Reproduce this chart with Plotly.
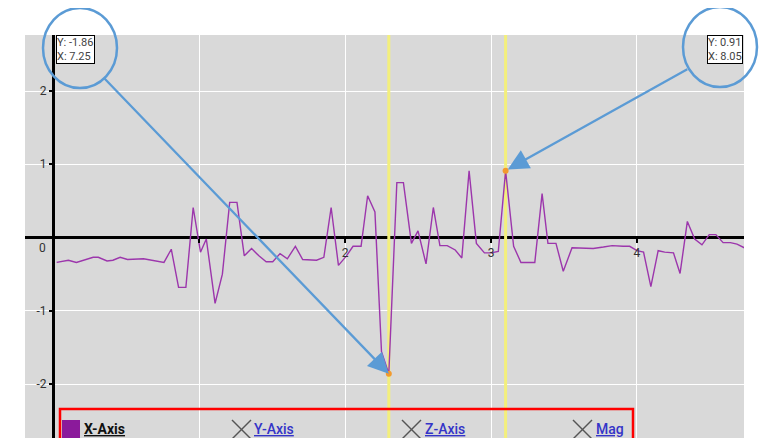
import plotly.graph_objects as go

# ---- data ----
x_vals = [0.025, 0.105, 0.16, 0.275, 0.31, 0.37, 0.41, 0.46, 0.51, 0.57, 0.62, 0.76, 0.81, 0.86, 0.91,
          0.96, 1.01, 1.05, 1.11, 1.16, 1.21, 1.26, 1.31, 1.36, 1.41, 1.46, 1.505, 1.555, 1.605, 1.66,
          1.71, 1.805, 1.855, 1.905, 1.955, 2.01, 2.055, 2.11, 2.155, 2.205, 2.25, 2.30, 2.355, 2.40,
          2.455, 2.50, 2.555, 2.605, 2.65, 2.70, 2.755, 2.80, 2.85, 2.90, 2.955, 3.00, 3.05, 3.10,
          3.155, 3.205, 3.30, 3.35, 3.39, 3.445, 3.495, 3.555, 3.63, 3.70, 3.77, 3.83, 3.905, 3.95,
          4.00, 4.045, 4.095, 4.145, 4.19, 4.25, 4.295, 4.345, 4.395, 4.445, 4.495, 4.54, 4.59,
          4.64, 4.685, 4.735]
y_vals = [-0.34, -0.31, -0.34, -0.27, -0.27, -0.32, -0.31, -0.27, -0.30, -0.29, -0.29, -0.34, -0.16,
          -0.68, -0.68, 0.41, -0.20, -0.02, -0.90, -0.50, 0.48, 0.48, -0.25, -0.15, -0.25, -0.33,
          -0.33, -0.22, -0.29, -0.12, -0.30, -0.31, -0.27, 0.41, -0.38, -0.25, -0.12, -0.12, 0.57,
          0.35, -1.56, -1.86, 0.75, 0.75, -0.08, 0.09, -0.36, 0.41, -0.11, -0.11, -0.17, -0.28, 0.91,
          -0.08, -0.21, -0.21, -0.19, 0.91, -0.12, -0.34, -0.34, 0.60, -0.08, -0.08, -0.46, -0.14,
          -0.14, -0.15, -0.13, -0.11, -0.12, -0.12, -0.18, -0.20, -0.67, -0.18, -0.20, -0.21, -0.49,
          0.22, -0.02, -0.10, 0.04, 0.04, -0.07, -0.07, -0.09, -0.14]

sel_x = [2.30, 3.10]
sel_y = [-1.86, 0.91]
sel_labels = ["Y: -1.86<br>X: 7.25", "Y: 0.91<br>X: 8.05"]

x_tickvals = [1, 2, 3, 4]
x_ticktext = ["", "2", "3", "4"]
y_tickvals = [-2, -1, 1, 2]
y_ticktext = ["-2", "-1", "1", "2"]

legend_names = ["X-Axis", "Y-Axis", "Z-Axis", "Mag"]

# ---- layout helpers (window pixel -> paper) ----
OFF = 8  # page body offset
L, R, T, B = 25, 744, 35, 438   # plot area in window pixels
W, H = R - L, B - T
def px(v):
    return (v - L) / W
def py(v):
    return (B - v) / H

fig = go.Figure()

# yellow cursor lines
for xv in sel_x:
    fig.add_trace(go.Scatter(x=[xv, xv], y=[-3, 3], mode="lines",
                             line=dict(color="#f3ef7c", width=3), hoverinfo="skip", showlegend=False))

fig.add_trace(go.Scatter(x=x_vals, y=y_vals, mode="lines",
                         line=dict(color="#9c36ac", width=1.4), showlegend=False))

fig.add_trace(go.Scatter(x=sel_x, y=sel_y, mode="markers",
                         marker=dict(color="#f39a2e", size=6), showlegend=False))

shapes = []
annotations = []

# value boxes
box_font = dict(family="Roboto", size=11, color="#444")
annotations.append(dict(xref="paper", yref="paper", x=px(56), y=1.0, xanchor="left", yanchor="top",
                        text=sel_labels[0], showarrow=False, align="left", font=box_font,
                        bgcolor="white", bordercolor="black", borderwidth=1, borderpad=0))
annotations.append(dict(xref="paper", yref="paper", x=px(743), y=1.0, xanchor="right", yanchor="top",
                        text=sel_labels[1], showarrow=False, align="left", font=box_font,
                        bgcolor="white", bordercolor="black", borderwidth=1, borderpad=0))

# circles
blue = "#5b9bd5"
shapes.append(dict(type="circle", xref="paper", yref="paper", x0=px(43), x1=px(117), y0=py(88), y1=py(8),
                   line=dict(color=blue, width=2.5)))
shapes.append(dict(type="circle", xref="paper", yref="paper", x0=px(683), x1=px(757), y0=py(87), y1=py(7),
                   line=dict(color=blue, width=2.5)))

# arrows
annotations.append(dict(xref="x", yref="y", x=sel_x[0], y=sel_y[0], ax=-286, ay=-297, text="",
                        showarrow=True, arrowhead=2, arrowsize=1.8, arrowwidth=2.3, arrowcolor=blue))
annotations.append(dict(xref="x", yref="y", x=sel_x[1] + 0.015, y=sel_y[1] + 0.02, ax=181, ay=-101, text="",
                        showarrow=True, arrowhead=2, arrowsize=1.8, arrowwidth=2.3, arrowcolor=blue))

# "0" label near origin
annotations.append(dict(xref="paper", yref="paper", x=px(45), y=py(248), xanchor="center", yanchor="middle",
                        text="0", showarrow=False, xshift=-3,
                        font=dict(family="Roboto", size=12, color="#333")))

# legend box
shapes.append(dict(type="rect", xref="paper", yref="paper", x0=px(60), x1=px(633), y0=py(450), y1=py(409),
                   line=dict(color="#ff0000", width=2.5)))
shapes.append(dict(type="rect", xref="paper", yref="paper", x0=px(62), x1=px(80), y0=py(440), y1=py(420),
                   fillcolor="#8b1a9b", line=dict(width=0)))
annotations.append(dict(xref="paper", yref="paper", x=px(82), y=py(429), xanchor="left", yanchor="middle",
                        text="<u><b>" + legend_names[0] + "</b></u>", showarrow=False,
                        font=dict(family="Roboto", size=14, color="#111")))
for xm, xt, name in [(232, 252, legend_names[1]), (402, 423, legend_names[2]), (573, 594, legend_names[3])]:
    shapes.append(dict(type="line", xref="paper", yref="paper", x0=px(xm), x1=px(xm + 19),
                       y0=py(420), y1=py(439), line=dict(color="#555", width=1.5)))
    shapes.append(dict(type="line", xref="paper", yref="paper", x0=px(xm), x1=px(xm + 19),
                       y0=py(439), y1=py(420), line=dict(color="#555", width=1.5)))
    annotations.append(dict(xref="paper", yref="paper", x=px(xt), y=py(429), xanchor="left", yanchor="middle",
                            text="<u>" + name + "</u>", showarrow=False,
                            font=dict(family="Roboto", size=14, color="#3434c8", weight=500)))

fig.update_layout(
    width=770, height=438,
    margin=dict(l=L - OFF, r=770 - (R - OFF), t=T - OFF, b=438 - (B - OFF)),
    paper_bgcolor="white", plot_bgcolor="#d9d9d9",
    showlegend=False,
    shapes=shapes, annotations=annotations,
    font=dict(family="Roboto", size=12, color="#333"),
    xaxis=dict(range=[-0.192, 4.733], tickvals=x_tickvals, ticktext=x_ticktext,
               showgrid=True, gridcolor="white", gridwidth=1,
               zeroline=True, zerolinecolor="black", zerolinewidth=3,
               showline=False, ticks="outside", ticklen=4, tickcolor="black", tickwidth=1.5,
               anchor="free", position=py(237.5), tickfont=dict(size=12, color="#333")),
    yaxis=dict(range=[-2.737, 2.765], tickvals=y_tickvals, ticktext=y_ticktext,
               showgrid=True, gridcolor="white", gridwidth=1,
               zeroline=True, zerolinecolor="black", zerolinewidth=3,
               showline=False, ticks="outside", ticklen=4, tickcolor="black", tickwidth=1.5,
               anchor="free", position=px(53), tickfont=dict(size=12, color="#333")),
)

fig.write_html("out.html")
